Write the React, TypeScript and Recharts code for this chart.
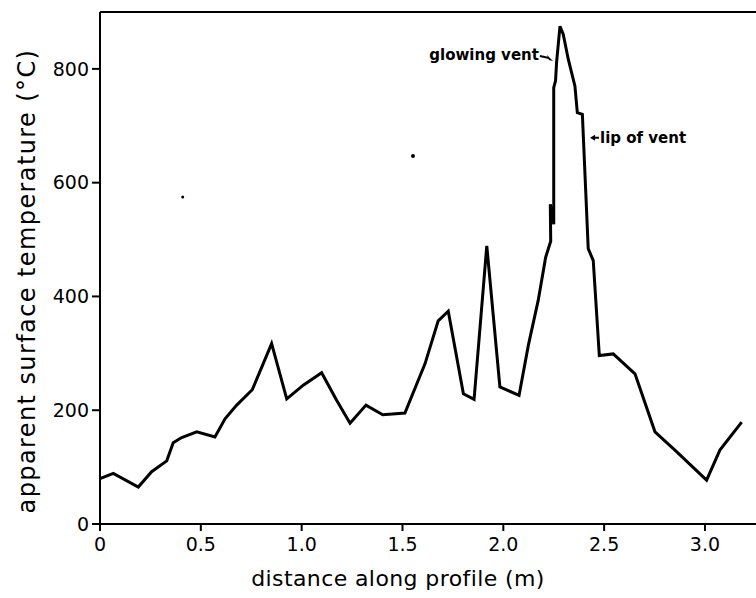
import {
  LineChart,
  Line,
  XAxis,
  YAxis,
  Label,
  ReferenceLine,
  ReferenceDot,
} from 'recharts';

// distance along profile (m)
const distance = [
  0, 0.066, 0.19, 0.256, 0.331, 0.363, 0.405, 0.48, 0.57, 0.62,
  0.678, 0.755, 0.851, 0.926, 1.008, 1.099, 1.174, 1.24, 1.319, 1.402,
  1.512, 1.612, 1.677, 1.727, 1.802, 1.855, 1.918, 1.983, 2.078, 2.124,
  2.173, 2.21, 2.235, 2.233, 2.25, 2.25, 2.259, 2.264, 2.281, 2.297,
  2.322, 2.355, 2.367, 2.392, 2.421, 2.446, 2.476, 2.545, 2.653, 2.752,
  2.851, 3.008, 3.074, 3.182,
];

// apparent surface temperature (°C)
const temperature = [
  80, 89, 65, 92, 111, 143, 152, 162, 153, 185,
  209, 236, 317, 220, 244, 266, 217, 177, 209, 192,
  195, 282, 357, 374, 229, 219, 489, 241, 226, 314,
  393, 469, 497, 562, 527, 767, 779, 811, 875, 861,
  817, 770, 723, 720, 484, 463, 296, 299, 264, 162,
  130, 77, 130, 179,
];

const xTicks = [0, 0.5, 1.0, 1.5, 2.0, 2.5, 3.0];
const yTicks = [0, 200, 400, 600, 800];

// stray specks on the scanned figure
const specks = [
  { x: 0.41, y: 575, r: 1.5 },
  { x: 1.552, y: 647, r: 2 },
];

const data = distance.map((d, i) => ({ d, t: temperature[i] }));

const FONT = '"DejaVu Sans", sans-serif';

const GlowingVent = ({ cx, cy }: any) => (
  <g>
    <text
      x={cx - 14}
      y={cy - 1}
      textAnchor="end"
      fontFamily={FONT}
      fontWeight="bold"
      fontSize={15}
      fill="#000"
    >
      glowing vent
    </text>
    <path d={`M${cx - 13},${cy - 5} L${cx - 4},${cy - 3}`} stroke="#000" strokeWidth={2} />
    <path d={`M${cx},${cy} L${cx - 6},${cy - 6} L${cx - 4},${cy - 1} Z`} fill="#000" />
  </g>
);

const LipOfVent = ({ cx, cy }: any) => (
  <g>
    <path d={`M${cx + 3},${cy} L${cx + 9},${cy}`} stroke="#000" strokeWidth={2} />
    <path d={`M${cx},${cy} L${cx + 5},${cy - 3} L${cx + 5},${cy + 3} Z`} fill="#000" />
    <text
      x={cx + 10}
      y={cy + 5}
      fontFamily={FONT}
      fontWeight="bold"
      fontSize={15}
      fill="#000"
    >
      lip of vent
    </text>
  </g>
);

export default function App() {
  return (
    <div style={{ position: 'absolute', left: 0, top: 0, background: '#fff' }}>
      <LineChart
        width={756}
        height={598}
        data={data}
        margin={{ top: 12, right: 0, bottom: 0, left: 0 }}
      >
        <XAxis
          dataKey="d"
          type="number"
          domain={[0, 3.253]}
          ticks={xTicks}
          allowDataOverflow
          height={74}
          tickSize={7}
          tickMargin={7}
          stroke="#000"
          strokeWidth={2}
          tickFormatter={(v: number) => (v === 0 ? '0' : v.toFixed(1))}
          tick={{ fill: '#000', fontSize: 19, fontFamily: FONT }}
        >
          <Label
            content={() => (
              <text
                x={398}
                y={586}
                textAnchor="middle"
                fontFamily={FONT}
                fontSize={22}
                letterSpacing={0.4}
                fill="#000"
              >
                distance along profile (m)
              </text>
            )}
          />
        </XAxis>
        <YAxis
          type="number"
          domain={[0, 900]}
          ticks={yTicks}
          width={100}
          tickSize={8}
          tickMargin={3}
          stroke="#000"
          strokeWidth={2}
          tick={{ fill: '#000', fontSize: 19, fontFamily: FONT }}
        >
          <Label
            content={() => (
              <text
                x={35}
                y={281}
                transform="rotate(-90 35 281)"
                textAnchor="middle"
                fontFamily={FONT}
                fontSize={24}
                letterSpacing={1.4}
                fill="#000"
              >
                apparent surface temperature (°C)
              </text>
            )}
          />
        </YAxis>
        <ReferenceLine y={900} stroke="#000" strokeWidth={2} />
        <Line
          type="linear"
          dataKey="t"
          stroke="#000"
          strokeWidth={3}
          dot={false}
          isAnimationActive={false}
        />
        {specks.map((s, i) => (
          <ReferenceDot key={i} x={s.x} y={s.y} r={s.r} fill="#000" stroke="none" />
        ))}
        <ReferenceDot x={2.246} y={814} r={0} shape={GlowingVent} />
        <ReferenceDot x={2.43} y={679} r={0} shape={LipOfVent} />
      </LineChart>
    </div>
  );
}
